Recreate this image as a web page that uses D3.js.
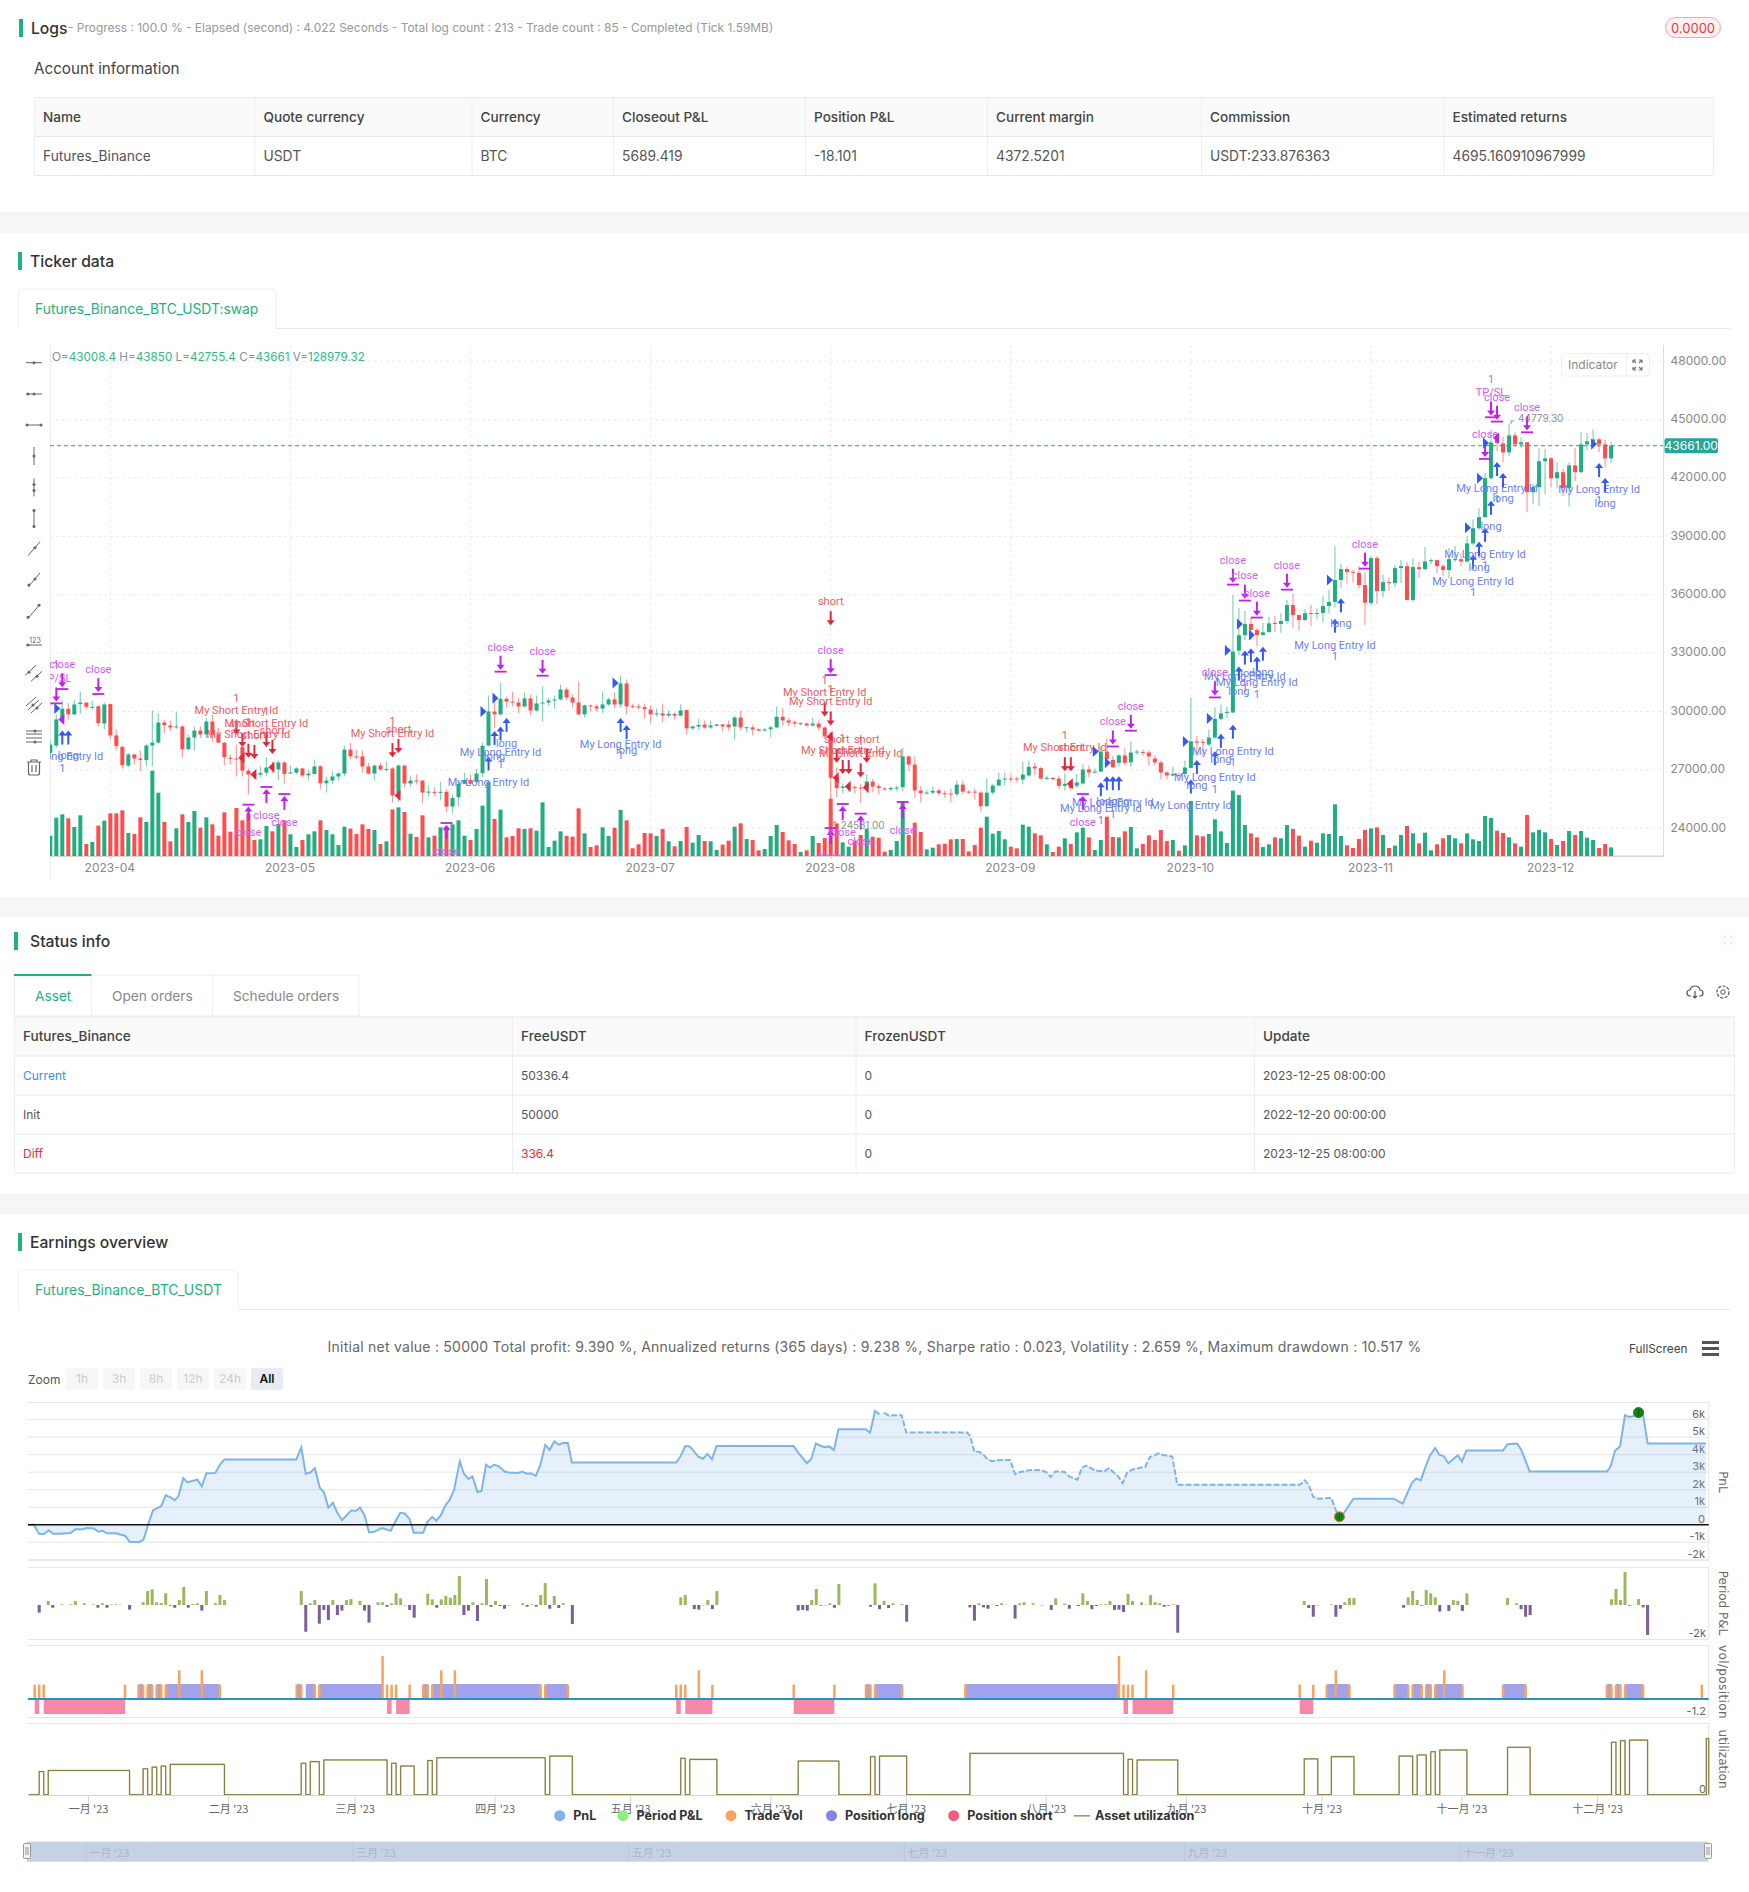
<!DOCTYPE html>
<html>
<head>
<meta charset="utf-8">
<script src="https://cdn.jsdelivr.net/npm/d3@7"></script>
<style>
  html, body { margin: 0; background: #fff; }
  svg { display: block; font-family: Inter, "Noto Sans", sans-serif; }
</style>
</head>
<body>
<svg id="page" width="1749" height="1892"></svg>
<script>
// ---- candles ----
const opens = [27870,28250,29610,30140,29850,30380,30460,30200,30270,29380,
30380,28770,28180,27220,27790,27580,27500,28250,28400,29430,
29280,29190,29230,28060,28660,29020,28820,29480,28820,28400,
27620,27580,28170,26960,26760,26760,26860,27170,27020,27380,
26830,26860,27070,26720,26790,27190,26310,26450,26660,26810,
28040,27690,27690,27170,26810,27220,27020,27070,25680,27220,
26300,26450,26450,25830,25870,25830,25870,25110,25590,26280,
26480,26380,26830,28250,30000,29850,30650,30510,30460,30260,
30670,30050,30430,30460,30580,30620,31130,30720,30460,29850,
30310,30260,30150,30360,30620,30360,31440,30270,30260,30220,
30100,29860,29900,29790,29880,29790,30070,29130,29230,29330,
29180,29260,29330,29330,29230,29690,29140,29180,29090,29040,
29090,29180,29730,29540,29450,29360,29380,29280,29380,29180,
28760,26590,26070,26140,26110,26090,26110,26400,26160,26040,
26000,26040,26110,27690,27270,25940,25780,25830,25940,25800,
25780,25750,26240,25880,25880,25830,25130,25830,26190,26520,
26550,26550,26500,26710,27170,27090,26540,26590,26550,26180,
26300,26180,26300,27020,26860,26910,27940,27510,27360,27740,
27380,27890,27920,27890,27580,27380,26860,26710,26740,26790,
27100,28460,28440,28300,28660,29620,29950,29950,33130,33920,
34500,34190,33930,34090,34550,34500,34650,35470,34960,34700,
35060,35030,35060,35420,35630,36760,37320,37180,37130,36500,
35580,37880,36190,36650,36600,37370,37470,35730,37420,37320,
37730,37780,37470,37270,37780,37830,37710,38640,39420,39990,
41990,43970,43780,43320,44190,43730,43840,41270,41530,42860,
43010,41990,42300,41480,42650,42300,43730,43890,43990,43730,
43008.4];
const closes = [28290,29590,30140,29850,30360,30460,30240,30240,29400,30360,
28770,28220,27240,27790,27580,27510,28250,28400,29430,29300,
29180,29230,28060,28660,29020,28820,29480,28800,28400,27650,
27580,27550,26960,26760,26690,26840,27120,27100,27380,26790,
26860,27070,26710,26810,27170,26310,26450,26660,26810,28040,
27690,27650,27170,26810,27220,27020,27050,25680,27220,26300,
26450,26400,25830,25880,25830,25870,25110,25560,26280,26480,
26280,26810,28230,30000,29850,30650,30510,30480,30260,30670,
30050,30410,30460,30570,30620,31130,30720,30460,29850,30310,
30260,30150,30360,30620,30360,31440,30260,30220,30200,30120,
29850,29900,29790,29880,29790,30050,29130,29230,29310,29180,
29280,29330,29230,29190,29690,29180,29190,29070,29020,29070,
29180,29730,29540,29430,29380,29400,29280,29380,29180,28710,
26590,26060,26140,26180,26070,26060,26400,26140,26070,26000,
26070,26090,27690,27270,25940,25800,25830,25920,25800,25760,
25750,26240,25880,25850,25850,25130,25830,26190,26500,26550,
26520,26520,26760,27150,27070,26550,26590,26520,26180,26280,
26070,26350,27020,26860,26910,27940,27560,27130,27740,27360,
27890,27940,27890,27690,27380,26860,26710,26790,26690,27120,
28460,28400,28400,28660,29620,29900,29980,33080,33920,34500,
34190,33930,34070,34530,34500,34650,35470,34960,34700,35050,
35030,35060,35420,35630,36760,37320,37170,37130,36500,35590,
37880,36190,36650,36600,37370,37470,35730,37420,37320,37710,
37780,37470,37270,37830,37830,37710,38640,39420,39990,41990,
43830,43800,43320,44190,43730,43840,41270,41530,42860,43010,
41990,42300,41480,42650,42300,43730,43890,43990,43730,43008.4,
43661];
const highs = [28510,29850,30570,30440,30600,31030,30480,30570,30310,30460,
30400,29070,28250,27870,27820,27990,28340,30050,29910,29570,
29540,29970,29280,28820,29230,29230,29670,29850,29160,28420,
27790,28300,28200,27070,26930,27170,27650,27440,27480,27430,
27220,27140,27100,27030,27530,27220,26660,26930,26860,28250,
28400,28040,27990,27380,27270,27380,27440,27140,27310,27270,
26710,26760,26450,26190,26110,26380,26020,25730,26450,26860,
26760,27050,28400,30820,30910,31490,30770,31030,30700,30980,
30870,30820,31290,30700,30820,31390,31250,30870,31540,30360,
30360,30360,31030,30720,30980,31850,31650,30390,30410,30410,
30310,30150,30410,30050,29950,30360,30100,29280,29640,29540,
29540,29360,29360,29540,29780,30050,29230,29330,29130,29160,
29280,30260,30170,29690,29540,29450,29420,29690,29540,29230,
28940,27120,26310,26360,26230,26280,26790,26540,26280,26110,
26140,26180,28130,27740,27690,26180,25970,26160,26040,25940,
26040,26450,26450,25970,26040,25900,26550,26280,26860,26860,
26760,26660,27410,27480,27380,27170,26710,26620,26710,26830,
26450,26790,27270,27220,27070,28200,28630,27740,27820,28130,
28460,28040,28040,27990,27740,27480,26930,27140,26860,27480,
30720,28770,28590,29070,30220,30360,30260,35990,35300,35170,
34840,34290,34550,34870,34910,35050,35730,36040,34960,35250,
35470,35300,35930,36240,38500,37580,37440,37270,37470,37180,
37990,37990,37010,36860,37530,37780,37680,37880,37680,38450,
37880,37830,37580,38400,38500,38140,39010,39870,40430,42260,
44480,44280,44110,44779.3,44350,44090,43840,41680,43530,43480,
43080,42810,42480,42810,43530,44350,44300,44500,44060,43970,
43850];
const lows = [27740,28130,29400,29570,29830,29900,30150,30100,29230,29070,
28560,27990,27070,27140,27270,26930,27170,27170,28340,28880,
28990,29110,27650,27990,27990,28640,28640,28420,28370,27240,
27270,26660,26660,25730,26520,26590,26660,26830,26480,26280,
26790,26790,26620,26500,26760,26020,25830,26280,26450,26660,
27560,27550,26860,26760,26450,26960,26910,25320,25340,26110,
26110,26240,25280,25630,25630,25420,24820,24770,25110,26280,
26240,26310,26620,28200,29160,29790,30200,30260,29900,30200,
29790,30000,29480,30290,30150,30570,30570,30200,29790,29690,
30000,30000,29910,30290,30150,30210,29850,30170,30100,29640,
29380,29740,29430,29690,29590,29740,28820,29060,29060,29130,
29110,29230,28970,28990,28560,29020,28920,28770,28970,28990,
28660,29130,29280,29240,29230,29260,29210,29230,29020,28640,
24581,25580,25800,25850,25800,25300,25800,25850,25730,25940,
25900,25900,25900,26930,25560,25320,25730,25760,25700,25560,
25320,25660,25730,25760,25460,24850,25110,25730,26160,26190,
26380,26350,26240,26660,26710,26500,26450,26480,26020,25940,
25940,26070,26240,26620,26830,26860,27220,27100,27170,27220,
27140,27790,27740,27220,27220,26500,26500,26660,26620,26710,
27070,27740,27740,28200,28580,29540,29660,29910,32860,33680,
33680,33370,33880,34050,34090,34050,34500,34290,34140,34640,
34400,34740,34570,35050,35340,36340,36580,36620,36340,34450,
35470,35520,35870,36190,36400,36600,35710,35630,36860,37270,
37580,37110,36960,36860,37680,37470,37640,38550,39320,39970,
41950,43370,42810,43120,43600,43560,40240,40650,40550,41170,
41510,41460,41070,40550,41830,42230,43420,43510,43320,42550,
42755.4];
// volumes in thousands
const volumes = [305,575,625,565,435,610,180,210,455,530,
640,640,685,345,330,580,510,1280,950,510,
220,415,625,510,675,425,580,475,305,655,
365,720,535,640,240,250,450,370,480,535,
325,135,240,325,370,535,390,325,165,440,
410,330,475,405,390,180,220,700,730,660,
335,285,610,280,305,430,440,475,535,305,
240,405,755,1115,555,695,280,300,415,405,
415,380,805,135,230,370,300,290,715,340,
135,160,430,300,425,690,535,115,175,345,
340,300,405,220,145,225,435,200,315,225,
220,90,170,230,440,490,255,240,85,105,
300,465,360,235,180,60,85,300,195,270,
860,490,205,140,230,315,410,290,275,65,
90,225,825,315,500,360,100,125,175,185,
250,255,255,70,165,425,590,335,375,250,
140,115,470,440,340,310,175,60,140,265,
180,355,425,280,90,240,590,285,280,370,
435,115,180,310,240,390,225,240,80,160,
825,310,295,330,550,370,195,980,915,465,
340,280,135,175,280,265,465,405,305,140,
230,200,340,330,775,300,160,120,255,390,
415,430,315,120,155,315,450,340,190,350,
85,175,265,315,265,190,340,250,225,600,
570,380,345,280,190,140,615,355,390,355,
255,165,225,375,315,375,275,240,120,180,
128.98];

const priceTicks = [48000,45000,42000,39000,36000,33000,30000,27000,24000];
const monthTickIdx = [10,40,70,100,130,160,190,220,250];
const monthTickLabels = ["2023-04","2023-05","2023-06","2023-07","2023-08","2023-09","2023-10","2023-11","2023-12"];
const lastPrice = 43661;

// trade marks: candle index and the price the arrow points at
const longEntryIdx = [2,73,75,95,175,177,190,194,197,199,201,214,237,239,241,258];
const longEntryTip = [29020,27690,29230,29670,26360,26670,26500,27960,29320,33130,32820,34770,38050,39440,42825,42770];
const longIdx = [3,74,76,96,176,178,191,195,198,200,202,215,238,240,242,259];
const longTip = [29020,29000,29670,29300,26670,26670,27510,28850,32310,33250,33330,35820,38720,40830,42260,42000];
const shortEntryIdx = [31,33,36,57,129,130,132,135,169];
const shortEntryTip = [28820,27620,28170,27650,29740,29280,26790,26620,26930];
const shortIdx = [32,34,37,58,130,131,133,136,170];
const shortTip = [28170,27560,27820,27860,34436,27360,26790,27360,26930];
const closeDownIdx = [1,2,8,75,82,130,177,180,194,197,199,201,206,219,239,240,241,246];
const closeDownTip = [30514,31250,30995,32144,31938,31970,28300,29110,30820,36620,35800,34925,36360,37440,43080,45220,45000,44450];
const closeDownText = ["TP/SL","close","close","close","close","close","close","close","close","close","close","close","close","close","close","TP/SL","close","close"];
const closeUpIdx = [33,36,39,66,130,132,135,142,172];
const closeUpTip = [25112,26020,25660,24170,23910,25146,24650,25250,25660];
const blueTriIdx = [2,73,75,95,175,177,190,194,197,199,201,214,237,239,240,258];
const blueTriPrice = [30155,30000,30686,31458,27942,27360,28457,29640,33130,34500,33930,36755,39440,41990,43800,43750];
const redTriIdx = [31,33,36,57,129,130,132,135,169];
const redTriPrice = [27616,26760,27136,25678,28710,26590,26140,26090,26280];
const purpleTriIdx = [1,240];
const purpleTriPrice = [29590,44057];

// ---- earnings panels, x is day of 2023 ----
const monthStartDays = [0,31,59,90,120,151,181,212,243,273,304,334];
const monthNames = ["一月 '23","二月 '23","三月 '23","四月 '23","五月 '23","六月 '23","七月 '23","八月 '23","九月 '23","十月 '23","十一月 '23","十二月 '23"];
const navigatorMonths = [0,2,4,6,8,10];

const pnlDays = [-13.3,-12,-10.8,-9.8,-8.7,-7.7,-6.1,-3.8,-2.8,-1.2,-.3,1.3,2.3,3.2,4.2,6.2,8.3,9.2,11.4,12.3,13.3,14.4,16.2,17.2,18.2,19.2,20,21.1,22,24.2,25.2,26.2,28.2,29.2,30.2,46.1,47.2,48.2,49.2,50.2,51.3,52.2,53.2,54.2,55.2,56.2,58.3,59.3,60.2,61.2,62.2,63.2,65.1,67,68,69.1,70.1,71.2,72.1,74.2,75.1,76.2,77.1,78.1,79.1,80,81,82.3,83.2,84.2,85.1,86.2,87.1,88.1,89,89.9,91,92.2,93.1,95.2,96.1,97.1,98,99.1,100.1,101.2,102.2,103.2,104.2,105.1,106.2,107.1,130.2,131.2,132.2,133.2,135.1,136.1,137.1,138.1,139.1,156.2,157.1,159.1,160.1,161.1,162.1,163,164.1,165.1,166.1,172.1,173.1,174.2,175.2,176.2,177.2,179.1,180.1,181.1,194.6,195.2,196.2,197.2,198.2,199.1,200.1,201.1,204.1,205.2,206.2,208.2,209.1,211.1,212.1,213.1,214.1,216.1,217.1,219,220,221,223,225,226,228,229,230,231,233,234,235,237,238,240,241.1,268.3,269.3,270.2,271.2,272.3,275.2,276.2,277,277.9,280.1,289,291,293,294,295,296,297,298.2,299.1,300.1,301.1,303.2,304.1,305.1,313.2,314.2,316.3,317.2,319.1,336.2,337,338,339.1,340.2,341.1,344.2,345.2,358.1];
const pnlValues = [0,0,-.53,-.53,-.32,-.51,-.51,-.47,-.26,-.25,-.19,-.21,-.4,-.34,-.49,-.49,-.64,-.98,-.98,-.85,0,.83,1.06,1.68,1.58,1.4,1.62,2.66,2.43,2.57,2.19,2.94,2.96,3.43,3.72,3.72,4.42,2.91,2.98,3.23,2.11,1.87,.98,1.25,.68,.26,.83,.79,.98,.55,-.43,-.42,-.19,-.34,.17,.68,.64,.32,-.45,-.45,.15,.45,.23,.55,1.11,1.4,1.96,3.62,2.91,2.62,2.75,1.87,1.92,3.42,3.26,3.43,3.32,3.04,2.98,2.96,3.04,2.91,2.94,2.79,3.38,4.55,4.28,4.75,4.57,4.66,4.66,3.55,3.55,3.94,4.49,4.47,3.89,3.77,4.04,3.74,4.49,4.49,4.15,3.51,3.75,4.64,4.51,4.43,4.47,4.26,5.45,5.45,5.25,6.49,6.3,6.4,6.23,6.25,6.25,5.26,5.26,5.08,4.17,4.17,3.98,3.75,3.62,3.68,3.7,2.89,3,3.11,3.13,3.11,3,2.72,3.04,3.02,2.77,2.57,3.25,3.38,3.08,3.06,3.23,2.77,2.38,2.98,3.13,3.26,3.3,3.85,4.08,3.98,3.89,2.28,2.28,2.53,2.28,1.58,1.49,1.53,.83,.45,.64,1.49,1.49,1.21,2.38,2.64,2.53,3.28,3.94,4.38,4,3.91,3.51,3.96,3.6,4.23,4.23,4.6,4.64,4.3,3.04,3.04,3.32,4.23,4.47,6.25,6.15,6.3,4.64,4.64];
const pnlDashFrom = 176, pnlDashTo = 277;
const pnlMarkDays = [277, 343.2];
const pnlMarkValues = [.45, 6.4];

const periodDays = [-11,-9,-8,-6,-4,-3,-1,1,2,3,4,5,6,7,9,12,13,14,15,16,17,18,19,20,21,22,23,24,25,26,28,29,30,47,48,49,50,51,52,53,54,55,56,57,58,60,61,62,64,65,66,67,68,69,70,71,72,75,76,77,78,79,80,81,82,83,84,85,86,87,88,89,90,91,92,93,96,97,98,99,100,101,102,103,104,105,107,131,132,134,135,136,137,138,139,157,158,159,160,161,162,163,164,165,166,173,174,175,176,177,178,180,181,195,196,197,198,199,200,201,202,203,205,206,207,209,211,213,214,216,217,219,220,221,222,223,224,225,226,227,228,229,230,231,233,234,235,236,237,238,239,240,241,269,270,271,272,275,276,277,278,279,280,291,292,293,294,295,296,297,298,299,301,302,303,304,305,314,316,317,318,319,337,338,339,340,341,342,343,344,345];
const periodValues = [-.45,.24,-.16,.04,.04,.24,.1,.04,-.16,.1,-.16,.04,.04,.02,-.27,.16,.82,.92,.16,.12,.69,-.04,-.16,.29,1.06,-.16,.06,.1,-.33,.82,.1,.59,.29,.82,-1.57,.1,.29,-1.1,-.29,-.88,.29,-.59,-.33,.29,.35,.24,-.33,-1.04,.16,.16,-.1,.1,.69,.39,-.02,-.29,-.75,.65,.33,-.16,.33,.53,.43,.59,1.71,-.59,-.33,.16,-.94,.1,1.53,-.1,.24,-.06,-.22,-.02,.1,-.1,.04,-.1,.59,1.29,-.22,.53,-.18,.1,-1.12,.45,.59,-.24,-.27,-.02,.29,-.24,.82,-.33,-.29,-.33,.29,.94,-.04,-.02,.1,-.16,1.24,-.1,1.27,-.25,.25,-.18,.1,.06,-.98,-.14,-.92,.1,-.14,-.22,.02,-.06,.1,.02,-.8,.1,.16,.1,-.02,-.29,.39,.08,-.22,-.06,.69,.24,-.25,-.06,.04,.04,.24,-.29,-.27,-.41,.65,.24,.16,.02,.59,.16,.1,-.1,-.04,.04,-1.63,.24,-.18,-.69,-.02,.04,-.69,-.22,.16,.41,.41,-.16,.45,.82,.29,-.04,.88,.69,.45,-.39,-.35,.29,.24,-.35,.69,.41,.1,-.25,-.69,-.59,.33,.94,.29,1.94,-.04,.02,.35,-.14,-1.76];

const tradeVolDays = [-12,-11,-10,8,11,12,13,14,15,16,17,20,25,29,46,47,50,51,65,66,67,68,71,74,75,76,78,81,100,101,106,130,131,132,135,138,156,165,172,173,174,180,194,228,229,230,231,234,240,268,271,274,276,279,289,292,293,295,296,297,298,300,304,313,318,336,337,338,339,340,344,357];
const tradeVolValues = [1,1,1,1,1,1,1,1,1,1,1,2,2,1,1,1,1,1,3,1,1,1,1,1,1,1,2,2,1,1,1,1,1,1,2,1,1,1,1,1,1,1,1,3,1,1,1,2,1,1,1,1,2,1,1,1,1,1,1,1,1,2,1,1,1,1,1,1,1,1,1,1];
const longStart = [11,13,15,17,46,48,51,74,76,101,172,174,194,274,289,293,296,298,313,336,338,340];
const longEnd = [12,14,16,29,47,50,65,75,100,106,173,180,228,279,292,295,297,304,318,337,339,344];
const shortStart = [-12,-10,66,68,130,132,156,229,231,268];
const shortEnd = [-11,8,67,71,131,138,165,230,240,271];
const utilStart = [-11,-9,12,14,16,18,47,49,52,67,69,75,77,102,131,133,157,173,175,195,230,232,269,275,290,294,297,299,314,337,339,341,358];
const utilEnd = [-10,9,13,15,17,30,48,51,66,68,72,76,101,107,132,139,166,174,181,229,231,241,272,280,293,296,298,305,319,338,340,345,359];
const utilLevel = [42,44,47,50,52,55,57,60,63,57,52,62,67,70,66,64,61,69,70,75,64,63,65,69,70,72,78,81,86,95,98,99,102];

// ---- page text ----
const accountHead = ["Name","Quote currency","Currency","Closeout P&L","Position P&L","Current margin","Commission","Estimated returns"];
const accountRow = ["Futures_Binance","USDT","BTC","5689.419","-18.101","4372.5201","USDT:233.876363","4695.160910967999"];
const accountCols = [34,254.5,471.5,613,805,987,1201,1443.5,1713];
const statusHead = ["Futures_Binance","FreeUSDT","FrozenUSDT","Update"];
const statusRows = [["Current","50336.4","0","2023-12-25 08:00:00"],["Init","50000","0","2022-12-20 00:00:00"],["Diff","336.4","0","2023-12-25 08:00:00"]];
const statusCols = [14,512,855.5,1254,1734];

const svg = d3.select("#page");

function label(x, y, str, size, fill, opts) {
    opts = opts || {};
    return svg.append("text").attr("x", x).attr("y", y).attr("dy", "0.35em")
        .attr("font-size", size).attr("fill", fill)
        .attr("font-weight", opts.weight || 400)
        .attr("text-anchor", opts.anchor || "start")
        .text(str);
}
function box(x, y, w, h, fill, stroke, r) {
    return svg.append("rect").attr("x", x).attr("y", y).attr("width", w).attr("height", h)
        .attr("fill", fill || "none").attr("stroke", stroke || "none").attr("rx", r || 0);
}
function hline(x1, x2, y, color) {
    svg.append("line").attr("x1", x1).attr("x2", x2).attr("y1", y).attr("y2", y).attr("stroke", color);
}
function vline(x, y1, y2, color) {
    svg.append("line").attr("x1", x).attr("x2", x).attr("y1", y1).attr("y2", y2).attr("stroke", color);
}
function sectionTitle(x, yTop, str) {
    box(x, yTop, 4, 18, "#1eb281");
    label(x + 12, yTop + 9.7, str, 15.7, "#333", { weight: 500 });
}
function table(cols, yRows, head, rows, bodySize, cellFill) {
    box(cols[0] + .5, yRows[0] + .5, cols[cols.length - 1] - cols[0], yRows[1] - yRows[0], "#fafafa");
    yRows.forEach(y => hline(cols[0], cols[cols.length - 1], y + .5, "#e8e8e8"));
    cols.forEach(x => vline(x + .5, yRows[0], yRows[yRows.length - 1], "#eeeeee"));
    head.forEach((t, i) => label(cols[i] + 9, (yRows[0] + yRows[1]) / 2 + .7, t, 13.6, "#444", { weight: 500 }));
    rows.forEach((row, r) => row.forEach((t, i) => {
        label(cols[i] + 9, (yRows[r + 1] + yRows[r + 2]) / 2 + .7, t, bodySize, cellFill ? cellFill(r, i) : "#555");
    }));
}

// ---- header blocks ----
sectionTitle(19, 19, "Logs");
label(68, 28, "- Progress : 100.0 % - Elapsed (second) : 4.022  Seconds - Total log count : 213 - Trade count : 85 - Completed (Tick 1.59MB)", 11.94, "#999");
box(1665.5, 17.5, 55, 20, "#fff1f0", "#f3a3a3", 10);
label(1693, 28, "0.0000", 13, "#e5393b", { anchor: "middle" });
label(34, 68.8, "Account information", 15.2, "#444");
table(accountCols, [97, 136, 175], accountHead, [accountRow], 13.8);
box(0, 212, 1749, 21, "#f5f6f8");
sectionTitle(18, 252, "Ticker data");
hline(276, 1730, 328.5, "#e8e8e8");
svg.append("path").attr("d", "M18.5,328V293q0,-4 4,-4H272q4,0 4,4V328").attr("fill", "#fff").attr("stroke", "#eeeeee");
label(35, 309, "Futures_Binance_BTC_USDT:swap", 13.85, "#1eb281");

// ---- candle chart ----
const plotLeft = 50, plotRight = 1663.5, plotTop = 345, plotBottom = 856;
const xIdx = d3.scaleLinear().domain([0, 260]).range([50.3, 1611.1]);
const yPrice = d3.scaleLinear().domain([24000, 48000]).range([828.2, 361.3]);
const yVol = d3.scaleLinear().domain([0, 1500]).range([plotBottom, plotBottom - 100]);
const greenUp = "#1fae80", redDown = "#ff4d4f";

svg.append("defs").append("clipPath").attr("id", "plot-clip").append("rect")
    .attr("x", plotLeft).attr("y", plotTop).attr("width", plotRight - plotLeft).attr("height", plotBottom - plotTop);

const gridG = svg.append("g");
priceTicks.forEach(p => gridG.append("line").attr("x1", plotLeft).attr("x2", plotRight)
    .attr("y1", yPrice(p)).attr("y2", yPrice(p)).attr("stroke", "#ececec").attr("stroke-dasharray", "3,3"));
monthTickIdx.forEach(i => gridG.append("line").attr("x1", xIdx(i)).attr("x2", xIdx(i))
    .attr("y1", plotTop).attr("y2", plotBottom).attr("stroke", "#ececec").attr("stroke-dasharray", "3,3"));
vline(plotLeft + .5, plotTop, 880, "#ececec");
vline(plotRight, plotTop, plotBottom, "#dddddd");

const xAxis = d3.axisBottom(xIdx).tickValues(monthTickIdx).tickSize(3)
    .tickFormat((d, i) => monthTickLabels[i]);
const xAxisG = svg.append("g").attr("transform", `translate(0,${plotBottom})`).call(xAxis);
xAxisG.attr("font-family", null);
xAxisG.select(".domain").remove();
xAxisG.selectAll("line").attr("stroke", "#cccccc");
xAxisG.selectAll("text").attr("font-size", 12).attr("fill", "#888").attr("dy", "0.85em").attr("dx", -1);
svg.append("rect").attr("x", plotLeft).attr("y", plotBottom - .5).attr("width", plotRight - plotLeft).attr("height", 1.5).attr("fill", "#d5d5d5");

const yAxis = d3.axisRight(yPrice).tickValues(priceTicks).tickSize(0).tickPadding(7)
    .tickFormat(d => d.toFixed(2));
const yAxisG = svg.append("g").attr("transform", `translate(${plotRight},0)`).call(yAxis);
yAxisG.attr("font-family", null);
yAxisG.select(".domain").remove();
yAxisG.selectAll("text").attr("font-size", 12).attr("fill", "#888").attr("y", -1);

const plot = svg.append("g").attr("clip-path", "url(#plot-clip)");
const bars = d3.range(opens.length);
const barColor = i => closes[i] >= opens[i] ? greenUp : redDown;

plot.selectAll(".vol").data(bars).enter().append("rect")
    .attr("x", i => xIdx(i) - 2).attr("width", 4)
    .attr("y", i => yVol(volumes[i])).attr("height", i => plotBottom - yVol(volumes[i]))
    .attr("fill", barColor);
plot.selectAll(".wick").data(bars).enter().append("line")
    .attr("x1", xIdx).attr("x2", xIdx)
    .attr("y1", i => yPrice(highs[i])).attr("y2", i => yPrice(lows[i]))
    .attr("stroke", barColor).attr("stroke-opacity", .55).attr("stroke-width", 1.2);
plot.selectAll(".body").data(bars).enter().append("rect")
    .attr("x", i => xIdx(i) - 2).attr("width", 4)
    .attr("y", i => yPrice(Math.max(opens[i], closes[i])))
    .attr("height", i => Math.max(1, Math.abs(yPrice(opens[i]) - yPrice(closes[i]))))
    .attr("fill", barColor);

// last price line and tag
plot.append("line").attr("x1", plotLeft).attr("x2", plotRight)
    .attr("y1", yPrice(lastPrice)).attr("y2", yPrice(lastPrice))
    .attr("stroke", "#26a08c").attr("stroke-dasharray", "4,3");
box(plotRight + 1, yPrice(lastPrice) - 7.5, 53.5, 15, "#26a69a", null, 2);
label(plotRight + 27.7, yPrice(lastPrice), lastPrice.toFixed(2), 12, "#fff", { anchor: "middle" });

// trade marks
const blueMark = "#3358f4", redMark = "#e0283c", purpleMark = "#c020ee";
const blueText = "#6b80f8", redText = "#ef5b63", purpleText = "#d25cf2";
const markG = plot.append("g");
function markText(x, y, str, fill) {
    markG.append("text").attr("x", x).attr("y", y).attr("dy", "0.35em").attr("text-anchor", "middle")
        .attr("font-family", "Roboto, sans-serif").attr("font-size", 11).attr("fill", fill).text(str);
}
function arrow(x, tipY, dir, color) {
    // dir -1 points up, +1 points down
    markG.append("line").attr("x1", x).attr("x2", x).attr("y1", tipY - dir * 3).attr("y2", tipY - dir * 14)
        .attr("stroke", color).attr("stroke-width", 2);
    markG.append("path").attr("fill", color)
        .attr("d", `M${x},${tipY}L${x - 4},${tipY - dir * 5}L${x + 4},${tipY - dir * 5}Z`);
}
longEntryIdx.forEach((idx, k) => {
    const x = xIdx(idx), y = yPrice(longEntryTip[k]);
    arrow(x, y, -1, blueMark);
    markText(x, y + 26, "My Long Entry Id", blueText);
    markText(x, y + 37.5, "1", blueText);
});
longIdx.forEach((idx, k) => {
    const x = xIdx(idx), y = yPrice(longTip[k]);
    arrow(x, y, -1, blueMark);
    markText(x, y + 25, "long", blueText);
});
shortEntryIdx.forEach((idx, k) => {
    const x = xIdx(idx), y = yPrice(shortEntryTip[k]);
    arrow(x, y, 1, redMark);
    markText(x, y - 24, "My Short Entry Id", redText);
    markText(x, y - 36, "1", redText);
});
shortIdx.forEach((idx, k) => {
    const x = xIdx(idx), y = yPrice(shortTip[k]);
    arrow(x, y, 1, redMark);
    markText(x, y - 24, "short", redText);
});
closeDownIdx.forEach((idx, k) => {
    const x = xIdx(idx), y = yPrice(closeDownTip[k]);
    arrow(x, y, 1, purpleMark);
    markG.append("rect").attr("x", x - 6).attr("y", y + 1).attr("width", 12).attr("height", 1.8).attr("fill", purpleMark);
    markText(x, y - 23, closeDownText[k], purpleText);
    if (closeDownText[k] === "TP/SL") markText(x, y - 36, "1", purpleText);
});
closeUpIdx.forEach((idx, k) => {
    const x = xIdx(idx), y = yPrice(closeUpTip[k]);
    arrow(x, y, -1, purpleMark);
    markG.append("rect").attr("x", x - 6).attr("y", y - 2.8).attr("width", 12).attr("height", 1.8).attr("fill", purpleMark);
    markText(x, y + 26, "close", purpleText);
});
blueTriIdx.forEach((idx, k) => {
    const x = xIdx(idx), y = yPrice(blueTriPrice[k]);
    markG.append("path").attr("fill", blueMark).attr("d", `M${x - 2},${y}L${x - 8},${y - 5.5}L${x - 8},${y + 5.5}Z`);
});
redTriIdx.forEach((idx, k) => {
    const x = xIdx(idx), y = yPrice(redTriPrice[k]);
    markG.append("path").attr("fill", redMark).attr("d", `M${x + 2},${y}L${x + 8},${y - 5.5}L${x + 8},${y + 5.5}Z`);
});
purpleTriIdx.forEach((idx, k) => {
    const x = xIdx(idx), y = yPrice(purpleTriPrice[k]);
    markG.append("path").attr("fill", purpleMark).attr("d", `M${x + 2},${y}L${x + 8},${y - 5.5}L${x + 8},${y + 5.5}Z`);
});

// high / low notes
const highIdx = highs.indexOf(d3.max(highs)), lowIdx = lows.indexOf(d3.min(lows));
markG.append("text").attr("x", xIdx(highIdx) + 9).attr("y", yPrice(highs[highIdx]) - 5).attr("dy", "0.35em")
    .attr("font-size", 10).attr("fill", "#8a8f98").text(highs[highIdx].toFixed(2));
markG.append("text").attr("x", xIdx(lowIdx) + 10).attr("y", yPrice(lows[lowIdx]) + 9).attr("dy", "0.35em")
    .attr("font-size", 10).attr("fill", "#8a8f98").text(lows[lowIdx].toFixed(2));
markG.append("path").attr("fill", "none").attr("stroke", "#8a8f98")
    .attr("d", `M${xIdx(highIdx) + 5},${yPrice(highs[highIdx]) - 3}h-3v3 M${xIdx(lowIdx) + 6},${yPrice(lows[lowIdx]) + 5}h-3v3`);

// ohlc readout
const last = opens.length - 1;
const ohlcText = svg.append("text").attr("x", 52).attr("y", 356.5).attr("dy", "0.35em").attr("font-size", 11.7);
[["O=", opens[last]], [" H=", highs[last]], [" L=", lows[last]], [" C=", closes[last]], [" V=", "128979.32"]].forEach(p => {
    ohlcText.append("tspan").attr("fill", "#8a8f98").attr("xml:space", "preserve").text(p[0]);
    ohlcText.append("tspan").attr("fill", "#2eb88a").text(p[1]);
});

// indicator button
box(1561.5, 353.5, 88, 22.5, "#fff", "#eeeeee", 3);
vline(1626.5, 353.5, 376, "#eeeeee");
label(1568, 365, "Indicator", 12, "#888");
svg.append("path").attr("fill", "none").attr("stroke", "#777").attr("stroke-width", 1.2)
    .attr("d", "M1633,360l3,3m-3,-3h3m-3,0v3 M1642,360l-3,3m3,-3h-3m3,0v3 M1633,370l3,-3m-3,3h3m-3,0v-3 M1642,370l-3,-3m3,3h-3m3,0v-3");

// left drawing tools
const toolY = [362.7,394,425,456,487.4,518.4,548.7,580,611.3,642,673.3,705,736];
const toolKind = ["h1","h2","h3","v1","v2","v3","d1","d2","d3","n","p1","p2","l"];
const toolG = svg.append("g").attr("stroke", "#666").attr("fill", "#666").attr("stroke-width", 1);
toolY.forEach((y, k) => {
    const kind = toolKind[k], g = toolG.append("g").attr("transform", `translate(34,${y})`);
    const seg = (a, b, c, d) => g.append("line").attr("x1", a).attr("y1", b).attr("x2", c).attr("y2", d);
    const dot = (a, b) => g.append("circle").attr("cx", a).attr("cy", b).attr("r", 1.5).attr("stroke", "none");
    if (kind[0] === "h") { seg(-8, 0, 8, 0); if (kind === "h1") dot(0, 0); if (kind === "h2") { dot(-6, 0); dot(0, 0); } if (kind === "h3") { dot(-7, 0); dot(7, 0); } }
    if (kind[0] === "v") { seg(0, -9, 0, 9); if (kind === "v1") dot(0, 0); if (kind === "v2") { dot(0, -3); dot(0, 3); } if (kind === "v3") { dot(0, -8); dot(0, 8); } }
    if (kind[0] === "d") { seg(-6, 7, 6, -7); if (kind === "d1") dot(1, -1); if (kind === "d2") { dot(-5, 5); dot(1, -1); } if (kind === "d3") { dot(-6, 6); dot(5, -6); } }
    if (kind === "n") { seg(-8, 3, 8, 3); dot(-6, 3); g.append("text").attr("x", 1).attr("y", 1).attr("font-size", 7).attr("text-anchor", "middle").attr("stroke", "none").text("123"); }
    if (kind === "p1") { seg(-9, 2, 2, -8); seg(-3, 8, 8, -2); dot(-5, -1); dot(3, 3); }
    if (kind === "p2") { seg(-8, 1, 2, -8); seg(-6, 5, 5, -5); seg(-3, 8, 8, -2); dot(-1, 0); dot(3, 3); }
    if (kind === "l") { seg(-8, -5, 8, -5); seg(-8, -2, 8, -2); seg(-8, 2, 8, 2); seg(-8, 6, 8, 6); dot(1, -5); dot(1, 6); }
});
svg.append("path").attr("fill", "none").attr("stroke", "#666").attr("stroke-width", 1.2)
    .attr("d", "M27,762h14M31,762v-2h6v2M28.5,762v11q0,2 2,2h7q2,0 2,-2v-11M32,765v7M36,765v7");

// ---- status block ----
box(0, 897, 1749, 20, "#f5f6f8");
box(14, 932, 4, 18, "#1eb281");
label(30, 941.7, "Status info", 15.7, "#333", { weight: 500 });
svg.append("path").attr("fill", "none").attr("stroke", "#ddd")
    .attr("d", "M1723,935l3,3 M1733,935l-3,3 M1723,945l3,-3 M1733,945l-3,-3");
box(14.5, 975, 77, 41, "#fff", "#eeeeee");
box(91.5, 975, 121, 41, "#fff", "#eeeeee");
box(212.5, 975, 146.5, 41, "#fff", "#eeeeee");
box(14, 974, 77.5, 2, "#1eb281");
label(35, 996, "Asset", 13.7, "#1eb281");
label(112, 996, "Open orders", 13.7, "#888");
label(233, 996, "Schedule orders", 13.7, "#888");
svg.append("path").attr("fill", "none").attr("stroke", "#555").attr("stroke-width", 1.2)
    .attr("d", "M1691,996h-1q-3,0 -3,-3t3,-3q1,-4 5,-4t5,4q3,0 3,3t-3,3h-1 M1695,991v7m-2,-2l2,2l2,-2");
svg.append("circle").attr("cx", 1723).attr("cy", 992).attr("r", 6).attr("fill", "none").attr("stroke", "#555").attr("stroke-width", 1.2).attr("stroke-dasharray", "3,1.5");
svg.append("circle").attr("cx", 1723).attr("cy", 992).attr("r", 2.2).attr("fill", "none").attr("stroke", "#555");
table(statusCols, [1016.5, 1055.5, 1094.5, 1133.5, 1172.5], statusHead, statusRows, 12, (r, i) => {
    if (i === 0 && r === 0) return "#3b8eea";
    if (r === 2 && i < 2) return "#f02a2a";
    return "#555";
});

// ---- earnings block ----
box(0, 1194, 1749, 20, "#f5f6f8");
sectionTitle(18, 1233, "Earnings overview");
hline(238, 1730, 1309.5, "#e8e8e8");
svg.append("path").attr("d", "M18.5,1309V1274q0,-4 4,-4H234q4,0 4,4V1309").attr("fill", "#fff").attr("stroke", "#eeeeee");
label(35, 1290, "Futures_Binance_BTC_USDT", 14, "#1eb281");
label(874.5, 1347, "Initial net value : 50000 Total profit: 9.390 %, Annualized returns (365 days) : 9.238 %, Sharpe ratio : 0.023, Volatility : 2.659 %, Maximum drawdown : 10.517 %", 14, "#666", { anchor: "middle" })
    .attr("letter-spacing", .24);
label(1629, 1349, "FullScreen", 11.8, "#444");
[1341, 1347, 1353].forEach(y => box(1702, y, 17, 3, "#555"));

label(28, 1380, "Zoom", 12, "#555");
const zoomNames = ["1h","3h","8h","12h","24h","All"];
zoomNames.forEach((t, k) => {
    const x = 66 + k * 37;
    box(x, 1368, 32, 22, k === 5 ? "#e6ebf5" : "#f7f7f7", null, 2);
    label(x + 16, 1379, t, 12, k === 5 ? "#111" : "#ccc", { anchor: "middle", weight: k === 5 ? 600 : 400 });
});

// shared x scale for the stacked panels, day 0 is 2023-01-01
const panelLeft = 28, panelRight = 1708.7;
const xDay = d3.scaleLinear().domain([0, 334]).range([88, 1597]);
const barX = d => xDay(d + .2);
const panelFrame = (top, bottom) => {
    hline(panelLeft, panelRight, top + .5, "#e6e6e6");
    hline(panelLeft, panelRight, bottom + .5, "#e6e6e6");
    vline(panelRight, top, bottom, "#e6e6e6");
};
function panelTitle(yCenter, str, spacing) {
    svg.append("text").attr("transform", `translate(1718.5,${yCenter}) rotate(90)`)
        .attr("text-anchor", "middle").attr("font-size", 12).attr("fill", "#666")
        .attr("font-family", "DejaVu Sans").attr("letter-spacing", spacing).text(str);
}

// PnL
panelFrame(1402, 1560);
const yPnl = d3.scaleLinear().domain([-2, 6]).range([1559.8, 1419.6]);
const pnlAxis = d3.axisLeft(yPnl).tickValues([-2,-1,0,1,2,3,4,5,6]).tickSize(0).tickPadding(0)
    .tickFormat(d => d + "k".slice(d === 0 ? 1 : 0));
const pnlAxisG = svg.append("g").attr("transform", `translate(1705,0)`).call(pnlAxis);
pnlAxisG.attr("font-family", null);
pnlAxisG.select(".domain").remove();
pnlAxisG.selectAll("text").attr("font-size", 11).attr("fill", "#666").attr("y", -6);
[-2,-1,1,2,3,4,5,6].forEach(v => hline(panelLeft, panelRight, yPnl(v), "#e6e6e6"));

const pnlPoints = pnlDays.map((d, i) => [d, pnlValues[i]]);
svg.append("path").datum(pnlPoints).attr("fill", "#7cb5ec").attr("fill-opacity", .2)
    .attr("d", d3.area().x(p => xDay(p[0])).y0(yPnl(0)).y1(p => yPnl(p[1])));
const pnlLine = d3.line().x(p => xDay(p[0])).y(p => yPnl(p[1]));
const pnlLinePath = (pts, dash) => svg.append("path").datum(pts).attr("fill", "none")
    .attr("stroke", "#7cb5ec").attr("stroke-width", 2).attr("stroke-dasharray", dash).attr("d", pnlLine);
pnlLinePath(pnlPoints.filter(p => p[0] <= pnlDashFrom), null);
pnlLinePath(pnlPoints.filter(p => p[0] >= pnlDashFrom && p[0] <= pnlDashTo), "6,2");
pnlLinePath(pnlPoints.filter(p => p[0] >= pnlDashTo), null);
svg.append("rect").attr("x", panelLeft).attr("y", yPnl(0) - .75).attr("width", panelRight - panelLeft).attr("height", 1.5).attr("fill", "#111");
pnlMarkDays.forEach((d, i) => {
    svg.append("circle").attr("cx", xDay(d)).attr("cy", yPnl(pnlMarkValues[i])).attr("r", 5)
        .attr("fill", "#0a8a0a").attr("stroke", i === 0 ? "#f26a5a" : "#2f6f2f").attr("stroke-width", 1);
    vline(xDay(d), yPnl(pnlMarkValues[i]) - 3, yPnl(pnlMarkValues[i]) + 3, "#064d06");
});
panelTitle(1482, "PnL", 0);

// Period P&L
panelFrame(1567, 1639);
const yPeriod = d3.scaleLinear().domain([-2, 0]).range([1639, 1605]);
svg.selectAll(".period").data(periodDays).enter().append("rect")
    .attr("x", d => barX(d) - 1.5).attr("width", 3)
    .attr("y", (d, i) => yPeriod(Math.max(0, periodValues[i])))
    .attr("height", (d, i) => Math.abs(yPeriod(periodValues[i]) - yPeriod(0)))
    .attr("fill", (d, i) => periodValues[i] >= 0 ? "#9bb85c" : "#7c5f95");
label(1706, 1633, "-2k", 11, "#666", { anchor: "end" });
panelTitle(1603, "Period P&L", 0);

// vol/position
panelFrame(1645, 1717);
const yPos = d3.scaleLinear().domain([-1, 1]).range([1714, 1684]);
const yTrade = d3.scaleLinear().domain([0, 3]).range([1699, 1656]);
longStart.forEach((d, i) => box(barX(d), yPos(1), barX(longEnd[i]) - barX(d), yPos(0) - yPos(1), "#a0a3ec"));
shortStart.forEach((d, i) => box(barX(d), yPos(0), barX(shortEnd[i]) - barX(d), yPos(-1) - yPos(0), "#f687a5"));
svg.selectAll(".tradevol").data(tradeVolDays).enter().append("rect")
    .attr("x", d => barX(d) - 1.25).attr("width", 2.5)
    .attr("y", (d, i) => yTrade(tradeVolValues[i])).attr("height", (d, i) => yTrade(0) - yTrade(tradeVolValues[i]))
    .attr("fill", "#f7a35c");
box(panelLeft, yPos(0) - 1, panelRight - panelLeft, 2, "#2b90c3");
label(1706, 1711, "-1.2", 11, "#666", { anchor: "end" });
panelTitle(1682, "vol/position", .4);

// Asset utilization
panelFrame(1723, 1795);
const yUtil = d3.scaleLinear().domain([0, 130]).range([1794.7, 1723]);
const utilPoints = [[-13.3, 0]];
utilStart.forEach((d, i) => {
    utilPoints.push([d, 0], [d, utilLevel[i]], [utilEnd[i], utilLevel[i]], [utilEnd[i], 0]);
});
const utilLine = d3.line().x(p => Math.min(barX(p[0]), panelRight)).y(p => yUtil(p[1]));
svg.append("path").datum(utilPoints).attr("fill", "none").attr("stroke", "#cfc5a3").attr("stroke-width", 1.6).attr("d", utilLine);
svg.append("path").datum(utilPoints).attr("fill", "none").attr("stroke", "#6f6220").attr("stroke-width", .8).attr("d", utilLine);
label(1706, 1789, "0", 11, "#666", { anchor: "end" });
panelTitle(1759, "utilization", 0);

// shared time axis
hline(panelLeft, panelRight, 1795.5, "#ccd6eb");
const dayAxis = d3.axisBottom(xDay).tickValues(monthStartDays).tickSize(10).tickFormat((d, i) => monthNames[i]);
const dayAxisG = svg.append("g").attr("transform", "translate(0,1795.5)").call(dayAxis);
dayAxisG.attr("font-family", null);
dayAxisG.select(".domain").remove();
dayAxisG.selectAll("line").attr("stroke", "#ccd6eb");
dayAxisG.selectAll("text").attr("font-size", 11).attr("fill", "#666").attr("y", 10)
    .attr("font-family", "'Noto Sans CJK SC', sans-serif");

// legend
const legendDots = [[559.7,"#7cb5ec"],[623,"#90ed7d"],[731,"#f7a35c"],[831.5,"#8085e9"],[953.7,"#f15c80"]];
const legendNames = ["PnL","Period P&L","Trade Vol","Position long","Position short"];
legendDots.forEach((d, i) => {
    svg.append("circle").attr("cx", d[0]).attr("cy", 1815.7).attr("r", 5.5).attr("fill", d[1]);
    label(d[0] + 13.5, 1815.7, legendNames[i], 12.6, "#333", { weight: 700 });
});
box(1073.7, 1815, 16.5, 1.6, "#a9976b");
label(1095, 1815.7, "Asset utilization", 12.6, "#333", { weight: 700 });

// navigator
box(27, 1841.7, 1681, 20, "#c5d2e3");
navigatorMonths.forEach(m => {
    const x = xDay(monthStartDays[m]) - 1.5;
    vline(x, 1841.7, 1861.7, "#bac8db");
    svg.append("text").attr("x", x + 3).attr("y", 1852.7).attr("dy", "0.35em").attr("font-size", 11)
        .attr("fill", "#aab6c8").attr("font-family", "'Noto Sans CJK SC', sans-serif").text(monthNames[m]);
});
[27, 1708].forEach(x => {
    box(x - 3.5, 1843.5, 7, 15, "#f2f2f2", "#999", 1);
    vline(x - 1, 1847, 1855, "#999");
    vline(x + 1, 1847, 1855, "#999");
});
</script>
</body>
</html>
